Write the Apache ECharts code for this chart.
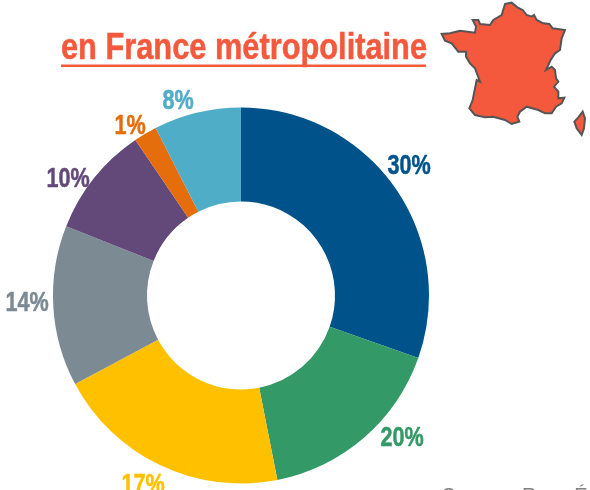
<!DOCTYPE html>
<html>
<head>
<meta charset="utf-8">
<style>
  html, body { margin: 0; padding: 0; background: #fff; overflow: hidden; }
  #chart { width: 590px; height: 490px; }
</style>
<script src="https://cdn.jsdelivr.net/npm/echarts@6/dist/echarts.min.js"></script>
</head>
<body>
<div id="chart"></div>
<script>
// slice sizes, labels are printed separately
// (the green and yellow labels do not follow their slice size in the original)
var sliceValues = [30.4, 16.5, 20.3, 13.8, 9.5, 2, 7.5]
var sliceLabels = ['30%', '20%', '17%', '14%', '10%', '1%', '8%']
var sliceColors = ['#00538a', '#339966', '#ffc000', '#7b8a93', '#63497a', '#e56d0c', '#4fadc8']
// centre of each label, the narrow type needs scaled text so the pie's own labels can't do it
var labelCentres = [[409, 167], [402, 439], [143, 486], [27, 304], [68, 180], [130, 127], [178, 102]]

var titleText = 'en France métropolitaine'
// only the tops of S, R and É are visible at the bottom edge, the wording is a guess
var sourceText = 'Source : Rose Énergie'

// outline of the map, traced by hand
var franceOutline = [[225,12],[245,8],[262,22],[278,30],[290,45],[305,50],[312,45],[320,60],[340,70],[358,72],[368,85],[405,90],[395,115],[390,150],[375,160],[362,180],[348,210],[365,200],[375,210],[378,235],[385,245],[372,260],[385,275],[385,295],[403,293],[395,310],[378,320],[365,340],[345,340],[325,330],[290,320],[270,335],[262,350],[268,365],[245,372],[225,360],[190,350],[165,352],[135,345],[118,325],[128,300],[135,265],[140,240],[150,245],[135,205],[120,190],[108,170],[108,155],[85,155],[65,130],[45,122],[35,102],[60,100],[90,92],[135,98],[138,80],[128,60],[145,60],[150,72],[180,75],[190,60],[215,45]]
var corsicaOutline = [[458,335],[465,355],[462,385],[455,405],[440,385],[433,365],[445,352]]

function mapPoints(list) {
  return list.map(function (p) { return [430 + p[0] / 3, p[1] / 3] })
}

var labelGraphics = sliceLabels.map(function (text, i) {
  return {
    type: 'text',
    x: labelCentres[i][0],
    y: labelCentres[i][1],
    scaleX: 0.8,
    z: 10,
    style: {
      text: text,
      fill: sliceColors[i],
      stroke: sliceColors[i],
      lineWidth: 0.5,
      align: 'center',
      verticalAlign: 'middle',
      font: 'bold 27px "Liberation Sans", sans-serif'
    }
  }
})

var chart = echarts.init(document.getElementById('chart'), null, { renderer: 'canvas' })

chart.setOption({
  animation: false,
  backgroundColor: '#fff',
  graphic: [
    {
      type: 'polygon',
      shape: { points: mapPoints(franceOutline) },
      style: { fill: '#f4593d', stroke: '#555', lineWidth: 2 }
    },
    {
      type: 'polygon',
      shape: { points: mapPoints(corsicaOutline) },
      style: { fill: '#f4593d', stroke: '#555', lineWidth: 2 }
    },
    {
      type: 'text',
      x: 61,
      y: 31,
      scaleX: 0.855,
      style: {
        text: titleText,
        fill: '#f4593d',
        stroke: '#f4593d',
        lineWidth: 0.5,
        font: 'bold 36px "Liberation Sans", sans-serif'
      }
    },
    {
      type: 'rect',
      shape: { x: 61, y: 64.5, width: 365, height: 2.5 },
      style: { fill: '#f4593d' }
    },
    {
      type: 'text',
      x: 442,
      y: 486,
      style: {
        text: sourceText,
        fill: '#7f7f7f',
        font: '20px "Liberation Sans", sans-serif'
      }
    }
  ].concat(labelGraphics),
  series: [{
    type: 'pie',
    center: [241, 295.5],
    radius: [94, 188],
    startAngle: 90,
    clockwise: true,
    silent: true,
    data: sliceValues.map(function (v, i) {
      return {
        value: v,
        name: sliceLabels[i],
        itemStyle: { color: sliceColors[i] }
      }
    }),
    label: { show: false },
    labelLine: { show: false }
  }]
})
</script>
</body>
</html>
